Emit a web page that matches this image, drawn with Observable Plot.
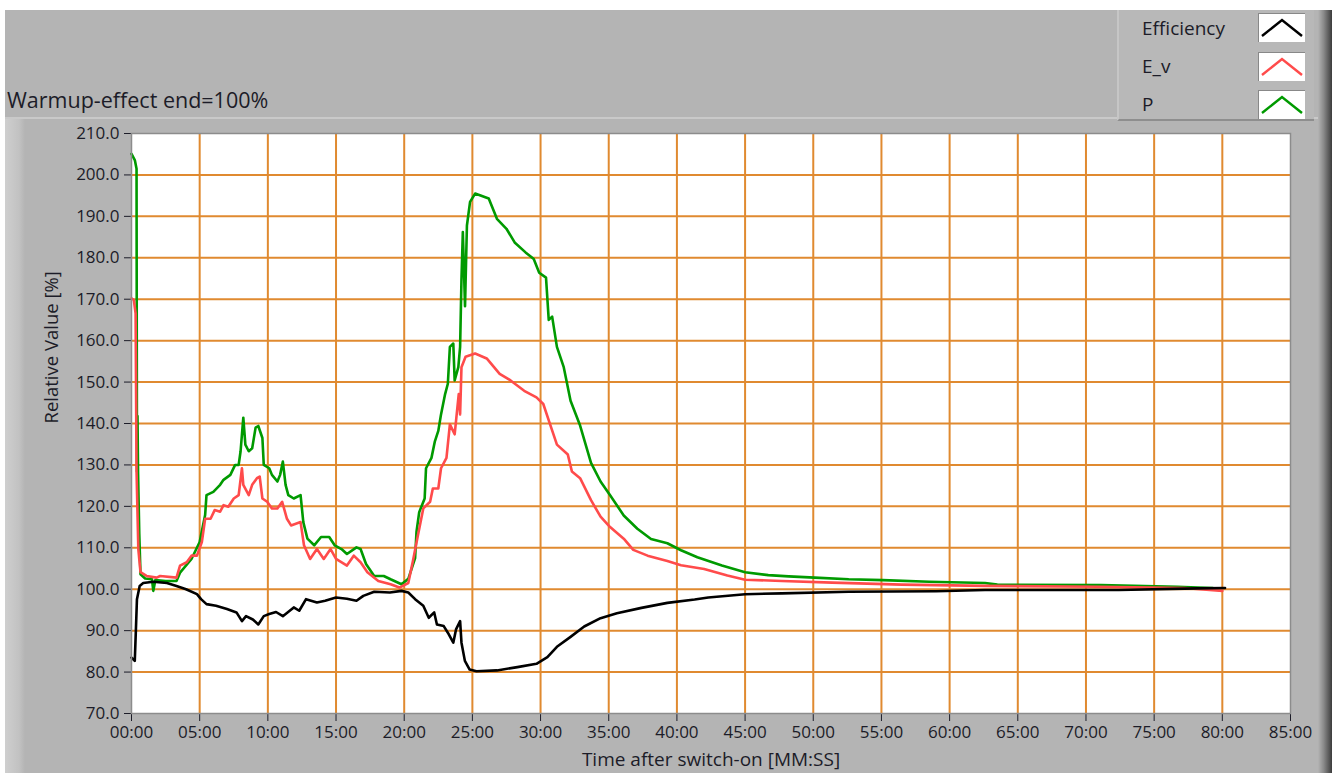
<!DOCTYPE html>
<html><head><meta charset="utf-8">
<script src="https://cdn.jsdelivr.net/npm/d3@7"></script>
<script src="https://cdn.jsdelivr.net/npm/@observablehq/plot@0.6"></script>
<style>
html,body{margin:0;padding:0;background:#fff;}
#page{position:relative;width:1332px;height:773px;overflow:hidden;background:#fff;font-family:"Open Sans",sans-serif;color:#1c1c28;}
#header{position:absolute;left:5px;top:10px;width:1327px;height:107px;background:#b4b4b4;}
#title{position:absolute;left:7px;top:87px;font-size:21.5px;line-height:26px;white-space:nowrap;}
#panel{position:absolute;left:5px;top:117px;width:1327px;height:656px;background:#b4b4b4;border-top:2px solid #c9c9c9;box-sizing:border-box;}
#strip{position:absolute;left:5px;top:119px;width:20px;height:654px;background:linear-gradient(to right,#cfcfcf,#c2c2c2 70%,#b4b4b4);}
#chart{position:absolute;left:0;top:117px;}
#legend{position:absolute;left:1117px;top:10px;width:197px;height:111px;background:#b8b8b8;border-left:2px solid #c6c6c6;border-bottom:2px solid #8e8e8e;box-sizing:border-box;}
.lrow{position:absolute;left:23px;font-size:19px;line-height:22px;}
.sw{position:absolute;left:139px;width:47px;height:29px;background:#fff;border-top:1px solid #888;border-left:1px solid #888;box-sizing:border-box;}
#rightbar{position:absolute;left:1318px;top:10px;width:14px;height:763px;background:linear-gradient(to right,#b4b4b4,#8a8a8a 40%,#3c3c3c);}
</style></head>
<body>
<div id="page">
  <div id="header"></div>
  <div id="panel"></div>
  <div id="strip"></div>
  <div id="title">Warmup-effect end=100%</div>
  <div id="chart"></div>
  <div id="legend"></div>
  <div id="rightbar"></div>
</div>
<script>
// ---- data (time in minutes, value in %) ----
const effTime = [0,0.24,0.32,0.4,0.6,0.86,1.6,2.6,3.3,4.0,4.8,5.1,5.5,6.2,7.0,7.7,8.1,8.4,8.9,9.3,9.7,10.1,10.6,11.1,11.9,12.3,12.8,13.6,14.2,15.0,15.8,16.5,17.0,17.8,18.95,19.8,20.3,20.8,21.4,21.8,22.2,22.4,22.9,23.2,23.6,23.8,24.1,24.2,24.45,24.8,25.3,26.8,28.3,29.7,30.5,31.2,32.2,33.2,34.4,35.6,37.4,39.3,41.3,42.3,45.0,47.7,52.6,59.0,62.6,72.4,78.2,80.2];
const effValue = [83.5,82.7,90.0,97.6,100.8,101.5,101.8,101.5,100.8,100.0,98.8,97.6,96.4,96.0,95.2,94.4,92.3,93.5,92.7,91.5,93.5,94.0,94.5,93.5,95.6,94.8,97.6,96.8,97.2,98.0,97.7,97.2,98.4,99.4,99.2,99.6,99.2,97.6,96.0,93.1,94.4,91.5,91.1,89.5,87.1,90.3,92.3,87.1,82.7,80.6,80.2,80.4,81.2,82.0,83.6,86.1,88.5,91.0,93.0,94.2,95.5,96.7,97.5,98.0,98.8,99.0,99.4,99.5,99.8,99.8,100.2,100.3];

const evTime = [0,0.17,0.3,0.37,0.5,0.66,1.1,1.84,2.1,3.3,3.56,4.05,4.4,4.8,5.16,5.4,5.8,6.1,6.5,6.75,7.1,7.5,7.86,8.1,8.2,8.6,8.85,9.2,9.4,9.6,9.95,10.3,10.7,11.05,11.4,11.7,12.4,12.65,13.1,13.6,14.1,14.6,15.0,15.8,16.3,16.8,17.3,18.1,19.0,19.65,20.3,20.65,21.0,21.4,21.9,22.1,22.5,22.7,23.1,23.35,23.7,24.0,24.1,24.2,24.5,25.2,26.05,27.0,27.8,28.8,29.7,30.2,30.7,31.2,32.0,32.3,32.9,33.7,34.4,35.1,36.1,36.8,37.85,39.3,40.3,42.0,43.7,45.0,47.7,51.4,56.5,62.6,71.0,77.2,80.0];
const evValue = [170.2,169.8,166.6,128.4,109.7,104.1,103.2,102.8,103.2,102.8,105.7,106.5,108.1,108.1,111.4,117.0,117.0,119.1,118.7,120.3,119.9,121.9,122.7,129.2,125.2,122.7,125.2,126.8,127.2,121.9,121.1,119.5,119.5,121.1,117.0,115.4,116.2,110.6,107.3,109.7,107.3,109.7,107.3,105.7,108.1,106.5,104.1,102.0,101.2,100.4,101.5,107.0,112.9,119.5,121.1,124.3,124.3,129.2,131.7,139.8,137.4,147.1,142.2,153.6,156.1,156.9,155.7,152.0,150.4,147.9,146.3,144.7,139.8,134.9,132.5,128.4,126.8,121.5,117.5,115.0,112.2,109.5,108.1,106.8,105.8,104.9,103.3,102.3,102.0,101.6,101.1,100.8,100.6,100.3,99.6];

const pTime = [0,0.25,0.37,0.4,0.44,0.48,0.57,0.66,1.0,1.5,1.6,1.75,2.5,3.3,3.56,4.4,5.0,5.4,5.5,6.0,6.5,6.75,7.25,7.6,7.86,8.0,8.2,8.35,8.6,8.85,9.1,9.3,9.6,9.7,10.1,10.3,10.7,10.9,11.1,11.3,11.5,11.9,12.4,12.6,12.9,13.4,13.9,14.5,14.9,15.4,15.8,16.5,16.8,17.2,17.8,18.5,19.0,19.8,20.3,20.8,20.9,21.1,21.5,21.6,22.0,22.25,22.5,22.7,23.0,23.2,23.35,23.6,23.7,23.97,24.1,24.2,24.3,24.46,24.6,24.83,25.2,26.2,26.8,27.5,28.1,28.9,29.5,29.9,30.4,30.6,30.85,31.2,31.7,32.2,32.9,33.7,34.4,35.1,36.1,37.1,38.1,39.3,40.3,41.5,43.3,45.0,46.7,48.2,50.1,52.6,55.1,58.5,62.6,63.5,71.1,76.7,78.2,79.3];
const pValue = [205.1,203.5,201.5,128.4,141.8,128.4,113.4,103.6,102.6,102.4,99.6,102.2,102.0,102.0,104.0,107.3,111.4,117.9,122.7,123.5,125.2,126.4,127.6,130.0,130.0,133.3,141.4,134.9,133.3,134.0,139.0,139.4,136.5,130.0,129.2,127.6,126.0,127.6,130.8,125.2,122.7,121.9,122.7,116.2,112.2,110.6,112.6,112.6,110.6,109.7,108.5,110.1,109.7,106.1,103.2,103.2,102.4,101.2,102.5,107.5,113.8,118.6,121.9,129.2,131.7,135.7,138.2,142.2,147.1,149.6,158.5,159.3,150.4,153.6,158.5,174.8,186.2,168.3,187.8,193.5,195.5,194.3,189.4,187.0,183.7,181.3,179.7,176.4,175.2,165.0,165.8,158.5,153.6,145.5,139.5,130.5,126.0,122.7,117.8,114.6,112.1,111.1,109.4,107.7,105.7,104.1,103.4,103.1,102.8,102.4,102.2,101.8,101.5,101.1,101.0,100.6,100.4,100.3];

const xTicks = [0,5,10,15,20,25,30,35,40,45,50,55,60,65,70,75,80,85];
const yTicks = [70,80,90,100,110,120,130,140,150,160,170,180,190,200,210];

const seriesNames = ["Efficiency","E_v","P"];
const seriesColors = ["#000000","#ff4b4b","#009a00"];

const toRows = (T, V, s) => T.map((t, i) => ({t, v: V[i], s}));
const effRows = toRows(effTime, effValue, "Efficiency");
const evRows = toRows(evTime, evValue, "E_v");
const pRows = toRows(pTime, pValue, "P");

const grid = "#e08a30";
const chart = Plot.plot({
  width: 1332, height: 656,
  marginTop: 16, marginLeft: 131, marginRight: 42, marginBottom: 60,
  style: {background: "transparent", fontFamily: "Open Sans", fontSize: "17px", color: "#1c1c28", overflow: "visible"},
  x: {domain: [0, 85], ticks: xTicks, tickFormat: d => String(d).padStart(2, "0") + ":00",
      label: null, tickSize: 8, tickPadding: 4},
  y: {domain: [70, 210], ticks: yTicks, tickFormat: d3.format(".1f"),
      label: null, tickSize: 7, tickPadding: 5},
  marks: [
    Plot.frame({fill: "white"}),
    Plot.ruleX(xTicks.slice(1, -1), {stroke: grid, strokeWidth: 2}),
    Plot.ruleY(yTicks.slice(1, -1), {stroke: grid, strokeWidth: 2}),
    Plot.line(pRows, {x: "t", y: "v", stroke: seriesColors[2], strokeWidth: 2.6}),
    Plot.line(evRows, {x: "t", y: "v", stroke: seriesColors[1], strokeWidth: 2.6}),
    Plot.line(effRows, {x: "t", y: "v", stroke: seriesColors[0], strokeWidth: 2.6}),
    Plot.frame({stroke: "#8c8c8c", strokeWidth: 1.5}),
    Plot.text(["Time after switch-on [MM:SS]"], {frameAnchor: "bottom", dy: 46, fontSize: 19, fill: "#1c1c28", lineAnchor: "middle"}),
    Plot.text(["Relative Value [%]"], {frameAnchor: "left", dx: -79, rotate: -90, fontSize: 18.5, fill: "#1c1c28", lineAnchor: "middle"})
  ]
});
document.getElementById("chart").appendChild(chart);

// legend
const legend = document.getElementById("legend");
const rowTops = [7, 45, 83];
const swTops = [3, 42, 80];
seriesNames.forEach((name, i) => {
  const t = document.createElement("div");
  t.className = "lrow"; t.style.top = rowTops[i] + "px"; t.textContent = name;
  legend.appendChild(t);
  const sw = document.createElement("div");
  sw.className = "sw"; sw.style.top = swTops[i] + "px";
  sw.innerHTML = `<svg width="46" height="28"><polyline points="3,22 23,6 43,22" fill="none" stroke="${seriesColors[i]}" stroke-width="2.5"/></svg>`;
  legend.appendChild(sw);
});
</script>
</body></html>
